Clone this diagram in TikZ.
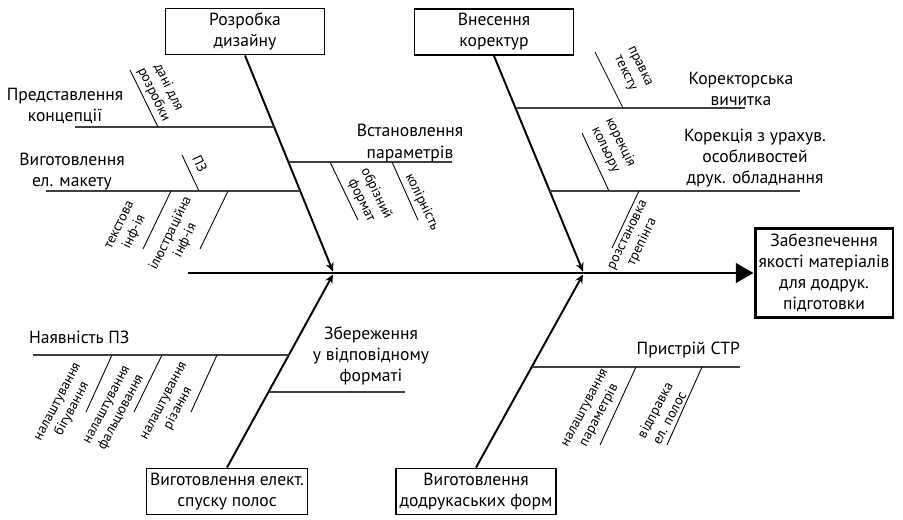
\documentclass[tikz,border=0pt]{standalone}
\usepackage{fontspec}
\setmainfont{PT Sans}
\usetikzlibrary{positioning}
\usetikzlibrary{arrows.meta}
\usetikzlibrary{calc}
\tikzstyle{causebox}=[draw,line width=1.1pt,align=center,minimum width=3.18cm,minimum height=0.92cm,inner sep=2pt]
\tikzstyle{effectbox}=[draw,line width=1.7pt,align=center,minimum width=2.76cm,minimum height=1.8cm,inner sep=2pt]
\tikzstyle{spine} = [draw,line width=1.7pt,-{Triangle[length=10pt,width=11pt]}]
\tikzstyle{bone} = [draw,line width=1.1pt,-{Stealth[length=5pt,width=4.5pt]}]
\tikzstyle{rib} = [draw,line width=0.6pt,black!75]
\tikzstyle{twig} = [draw,line width=0.5pt]
\tikzstyle{cause} = [align=center,inner sep=1pt]
\tikzstyle{detail} = [align=center,inner sep=1pt,font=\fontsize{7.9}{9.3}\selectfont]

\begin{document}
\begin{tikzpicture}[x=0.02cm,y=-0.02cm]
    \useasboundingbox (0,0) rectangle (903,520);

    % main boxes
    \node[causebox] (design) at (245,31.5) {Розробка\\дизайну};
    \node[causebox] (proof) at (494,32) {Внесення\\коректур};
    \node[causebox] (imposition) at (227,491.5) {Виготовлення елект.\\спуску полос};
    \node[causebox] (forms) at (476,491.5) {Виготовлення\\додрукаських форм};
    \node[effectbox] (quality) at (824,273) {Забезпечення\\якості матеріалів\\для додрук.\\підготовки};

    % spine and bones
    \foreach \x/\y/\name in {188/273/tail, 333/271.5/joinLt, 583/271.5/joinRt,
                             333/274.5/joinLb, 583/274.5/joinRb}
            \coordinate (\name) at (\x,\y);
    \path[spine] (tail) -- (quality.west);
    \foreach \source/ \dest in {design.south/joinLt, proof.south/joinRt, imposition.north/joinLb, forms.north/joinRb}
            \path[bone] (\source) -- (\dest);

    % ribs
    \foreach \x/\y/\name in {75/127/conceptA, 274.3/127/conceptB,
                             46/191/mockupA, 300.3/191/mockupB,
                             288.5/162/paramsA, 452/162/paramsB,
                             515.5/108/readingA, 745/108/readingB,
                             549.8/191/correctA, 800/191/correctB,
                             33/355/softA, 289.1/355/softB,
                             269/392/savingA, 405/392/savingB,
                             532/367/ctpA, 740/367/ctpB}
            \coordinate (\name) at (\x,\y);
    \foreach \source/ \dest in {conceptA/conceptB, mockupA/mockupB, paramsA/paramsB, readingA/readingB,
                               correctA/correctB, softA/softB, savingA/savingB, ctpA/ctpB}
            \path[rib] (\source) -- (\dest);

    % twigs
    \foreach \x/\y/\name in {158/127/dataA, 130/70/dataB,
                             199/191/pzA, 182/155/pzB,
                             171/191/textA, 143/249/textB,
                             228/191/illA, 200/249/illB,
                             330/162/trimA, 358/220/trimB,
                             392/162/colorA, 418/220/colorB,
                             623/108/editA, 595/52/editB,
                             609/191/tintA, 582/133/tintB,
                             639/191/trapA, 612/248/trapB,
                             112/355/creaseA, 86/412/creaseB,
                             162/355/foldA, 134/412/foldB,
                             217/355/cutA, 191/412/cutB,
                             636/367/setupA, 600/445/setupB,
                             702/367/sendA, 667/445/sendB}
            \coordinate (\name) at (\x,\y);
    \foreach \source/ \dest in {dataA/dataB, pzA/pzB, textA/textB, illA/illB, trimA/trimB, colorA/colorB,
                               editA/editB, tintA/tintB, trapA/trapB, creaseA/creaseB, foldA/foldB,
                               cutA/cutB, setupA/setupB, sendA/sendB}
            \path[twig] (\source) -- (\dest);

    % cause labels
    \node[cause] (concept) at (65,106) {Представлення\\концепції};
    \node[cause] (mockup) at (72,172) {Виготовлення\\ел. макету};
    \node[cause] (params) at (410,143) {Встановлення\\параметрів};
    \node[cause] (reading) at (741,89) {Коректорська\\вичитка};
    \node[cause] (correct) at (755,158) {Корекція з урахув.\\особливостей\\друк. обладнання};
    \node[cause, anchor=west] (soft) at (27,337) {Наявність ПЗ};
    \node[cause] (saving) at (371,356) {Збереження\\у відповідному\\форматі};
    \node[cause, anchor=east] (ctp) at (742,350) {Пристрій СТР};

    % detail labels
    \node[detail, rotate=-64] (data) at (161,91) {дані для\\розробки};
    \node[detail, rotate=-64] (pz) at (200,164) {ПЗ};
    \node[detail, rotate=64] (text) at (128,229) {текстова\\інф-ія};
    \node[detail, rotate=64] (ill) at (178,237) {ілюстраційна\\інф-ія};
    \node[detail, rotate=-64] (trim) at (369,197) {обрізний\\формат};
    \node[detail, rotate=-64] (color) at (422,202) {колірність};
    \node[detail, rotate=-64] (edit) at (632,70) {правка\\тексту};
    \node[detail, rotate=-64] (tint) at (613,146) {корекція\\кольору};
    \node[detail, rotate=64] (trap) at (636,239) {розстановка\\трепінга};
    \node[detail, rotate=62] (crease) at (66,406) {налаштування\\бігування};
    \node[detail, rotate=62] (fold) at (115,409) {налаштування\\фальцювання};
    \node[detail, rotate=62] (cut) at (172,405) {налаштування\\різання};
    \node[detail, rotate=62] (setup) at (593,412) {налаштування\\параметрів};
    \node[detail, rotate=62] (send) at (662,414) {відправка\\ел. полос};

\end{tikzpicture}
\end{document}
